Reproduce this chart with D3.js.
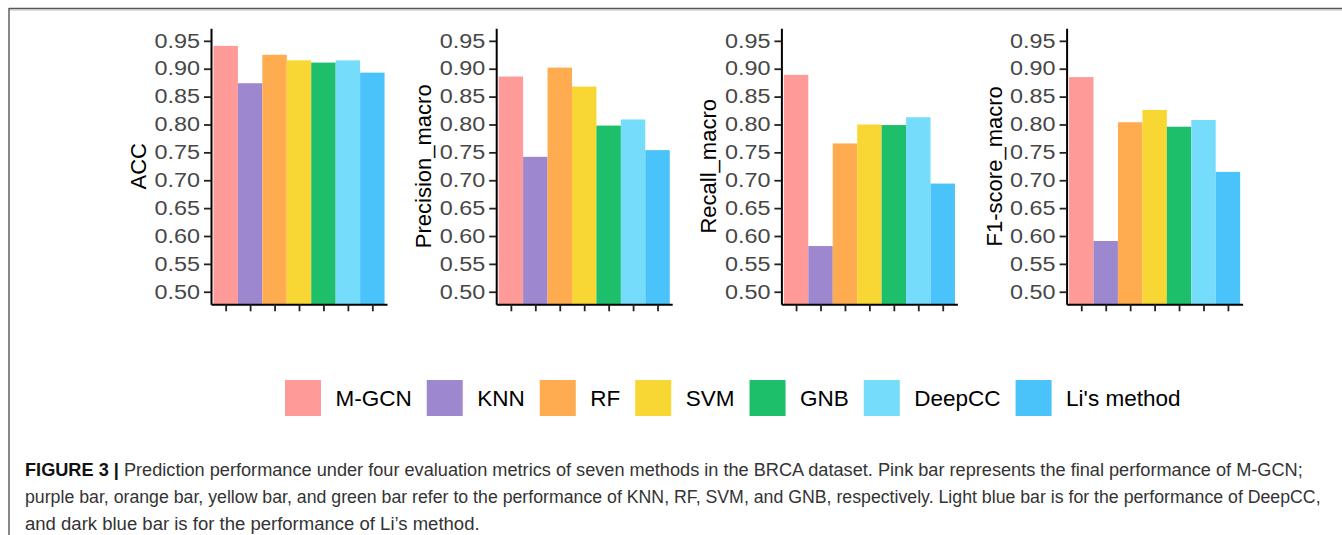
<!DOCTYPE html>
<html>
<head>
<meta charset="utf-8">
<script src="https://cdn.jsdelivr.net/npm/d3@7/dist/d3.min.js"></script>
<style>
  html, body { margin: 0; padding: 0; background: #fff; }
  svg { display: block; }
</style>
</head>
<body>
<svg id="chart" width="1342" height="535"></svg>
<script>
// ---------------- data ----------------
const methods = ["M-GCN", "KNN", "RF", "SVM", "GNB", "DeepCC", "Li's method"];
const colors = ["#FE9A97", "#9D88D0", "#FFAB50", "#F8D735", "#1DBF6A", "#76DCFC", "#4AC3FA"];
const metricNames = ["ACC", "Precision_macro", "Recall_macro", "F1-score_macro"];
const accValues = [0.941, 0.874, 0.925, 0.915, 0.911, 0.915, 0.893];
const precisionValues = [0.886, 0.742, 0.902, 0.868, 0.798, 0.809, 0.754];
const recallValues = [0.889, 0.582, 0.766, 0.800, 0.799, 0.813, 0.694];
const f1Values = [0.885, 0.591, 0.804, 0.826, 0.796, 0.808, 0.715];
const yTicks = [0.50, 0.55, 0.60, 0.65, 0.70, 0.75, 0.80, 0.85, 0.90, 0.95];
const captionLines = [
  ["FIGURE 3 | ", "Prediction performance under four evaluation metrics of seven methods in the BRCA dataset. Pink bar represents the final performance of M-GCN;"],
  ["", "purple bar, orange bar, yellow bar, and green bar refer to the performance of KNN, RF, SVM, and GNB, respectively. Light blue bar is for the performance of DeepCC,"],
  ["", "and dark blue bar is for the performance of Li\u2019s method."]
];

const seriesByMetric = [accValues, precisionValues, recallValues, f1Values];

// ---------------- layout ----------------
const svg = d3.select("#chart");
const FONT = "'Liberation Sans', Arial, Helvetica, sans-serif";

// figure frame
svg.append("line").attr("x1", 9).attr("x2", 1342).attr("y1", 8.5).attr("y2", 8.5)
  .attr("stroke", "#555").attr("stroke-width", 1.6);
svg.append("line").attr("x1", 9).attr("x2", 1342).attr("y1", 10).attr("y2", 10)
  .attr("stroke", "#bbb").attr("stroke-width", 1);
svg.append("line").attr("x1", 9).attr("x2", 9).attr("y1", 8).attr("y2", 535)
  .attr("stroke", "#555").attr("stroke-width", 1.4);

const panelX0 = 211, panelStep = 285.2, panelW = 176;
const panelTop = 28.3, panelBottom = 304.3;

const y = d3.scaleLinear().domain([0.4775, 0.9725]).range([panelBottom, panelTop]);

seriesByMetric.forEach((vals, p) => {
  const ax = panelX0 + p * panelStep;
  const x = d3.scaleLinear().domain([0.4, 7.6]).range([ax, ax + panelW]);
  const g = svg.append("g");

  // bars
  g.selectAll("rect.bar").data(vals).join("rect")
    .attr("class", "bar")
    .attr("x", (d, i) => x(i + 0.5))
    .attr("width", (d, i) => x(i + 1.5) - x(i + 0.5))
    .attr("y", d => y(d))
    .attr("height", d => y.range()[0] - y(d))
    .attr("fill", (d, i) => colors[i]);

  // y axis
  const yAxis = g.append("g").attr("transform", `translate(${ax},0)`)
    .call(d3.axisLeft(y).tickValues(yTicks).tickFormat(d3.format(".2f"))
      .tickSize(7).tickSizeOuter(0).tickPadding(4));
  yAxis.select(".domain").attr("stroke", "#000").attr("stroke-width", 2);
  yAxis.selectAll(".tick line").attr("stroke", "#222").attr("stroke-width", 1.8);
  yAxis.selectAll(".tick text")
    .attr("font-family", FONT).attr("font-size", 19.5).attr("fill", "#474747")
    .attr("textLength", 45.5).attr("lengthAdjust", "spacingAndGlyphs");

  // x axis
  const xAxis = g.append("g").attr("transform", `translate(0,${panelBottom})`)
    .call(d3.axisBottom(x).tickValues(d3.range(1, methods.length + 1))
      .tickFormat("").tickSize(7).tickSizeOuter(0));
  xAxis.select(".domain").attr("stroke", "#000").attr("stroke-width", 2);
  xAxis.selectAll(".tick line").attr("stroke", "#222").attr("stroke-width", 1.8);

  // y title
  g.append("text")
    .attr("transform", `translate(${ax - 65},${(panelTop + panelBottom) / 2}) rotate(-90)`)
    .attr("text-anchor", "middle")
    .attr("font-family", FONT).attr("font-size", 22).attr("fill", "#000")
    .text(metricNames[p]);
});

// ---------------- legend ----------------
const legend = svg.append("g");
let lx = 285;
const keySize = 36, keyY = 380, textOffset = 50.5, itemGap = 15;
methods.forEach((m, i) => {
  legend.append("rect").attr("x", lx).attr("y", keyY).attr("width", keySize).attr("height", keySize)
    .attr("fill", colors[i]);
  const t = legend.append("text").attr("x", lx + textOffset).attr("y", keyY + keySize / 2)
    .attr("dy", "0.35em")
    .attr("font-family", FONT).attr("font-size", 22.5).attr("fill", "#000").text(m);
  lx = lx + textOffset + t.node().getComputedTextLength() + itemGap;
});

// ---------------- caption ----------------
const capFont = "'Liberation Sans Narrow', 'Arial Narrow', 'Liberation Sans', Arial, sans-serif";
const capBaselines = [476, 503, 530];
const capLengths = [1278, 1296, 455];
captionLines.forEach((ln, i) => {
  const t = svg.append("text").attr("x", 0).attr("y", 0)
    .attr("font-family", capFont).attr("font-size", 18.5);
  if (ln[0]) t.append("tspan").attr("font-weight", "bold").attr("fill", "#111").text(ln[0]);
  t.append("tspan").attr("fill", "#333").text(ln[1]);
  const natural = t.node().getComputedTextLength();
  t.attr("transform", `translate(25,${capBaselines[i]}) scale(${capLengths[i] / natural},1)`);
});
</script>
</body>
</html>
